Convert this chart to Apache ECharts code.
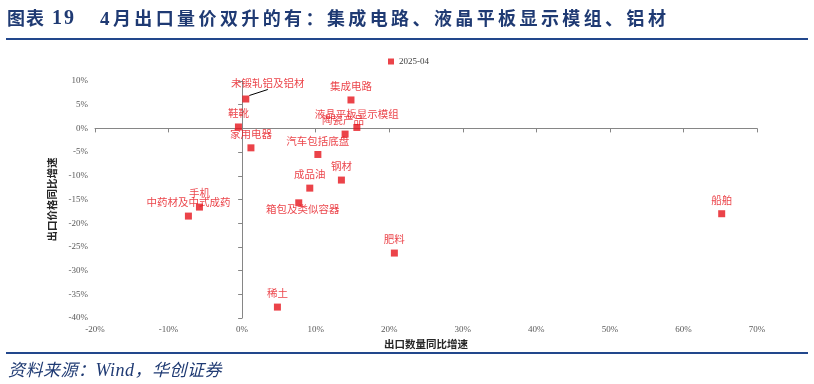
<!DOCTYPE html>
<html>
<head>
<meta charset="utf-8">
<script src="https://cdn.jsdelivr.net/npm/echarts@6/dist/echarts.min.js"></script>
<style>
  html, body { margin: 0; padding: 0; background: #fff; }
  #wrap { position: relative; width: 814px; height: 384px; overflow: hidden; }
  #chart { position: absolute; left: 0; top: 0; width: 814px; height: 384px; }
  .t { position: absolute; color: #1F3A73; font-family: "Noto Sans CJK SC", sans-serif; font-weight: bold; font-size: 18px; line-height: 20px; top: 7px; white-space: nowrap; }
  .num { font-family: "Liberation Serif", serif; font-size: 20px; }
  .rule { position: absolute; left: 6px; width: 802px; height: 2px; background: #22478C; }
  #src { position: absolute; left: 8px; top: 359px; color: #1F3A73; font-family: "Noto Sans CJK SC", sans-serif; font-style: italic; font-size: 17px; line-height: 20px; white-space: nowrap; letter-spacing: 0.5px; }
  #src .w { font-family: "Liberation Serif", serif; font-size: 18px; }
</style>
</head>
<body>
<div id="wrap">
  <div id="chart"></div>
  <div class="t" style="left:7px; letter-spacing:1px;">图表</div>
  <div class="t num" style="left:52px; letter-spacing:2px;">19</div>
  <div class="t" style="left:100px; letter-spacing:3.4px;"><span class="num" style="font-size:19px;">4</span>月出口量价双升的有：集成电路、液晶平板显示模组、铝材</div>
  <div class="rule" style="top:38px;"></div>
  <div class="rule" style="top:352px;"></div>
  <div id="src">资料来源：<span class="w">Wind</span>，华创证券</div>
</div>
<script>
const names = ['未锻轧铝及铝材','集成电路','鞋靴','液晶平板显示模组','陶瓷产品','家用电器','汽车包括底盘','钢材','成品油','手机','中药材及中式成药','箱包及类似容器','肥料','稀土','船舶'];
const qtyGrowth = [0.5, 14.8, -0.5, 15.6, 14.0, 1.2, 10.3, 13.5, 9.2, -5.8, -7.3, 7.7, 20.7, 4.8, 65.2];
const priceGrowth = [6.2, 6.0, 0.3, 0.2, -1.2, -4.1, -5.5, -10.9, -12.6, -16.6, -18.5, -15.7, -26.3, -37.7, -18.0];
const seriesName = '2025-04';
const xTicks = {min: -20, max: 70, interval: 10};
const yTicks = {min: -40, max: 10, interval: 5};

const red = '#E6141C';
const axisColor = '#868686';
const labelFont = {fontFamily: 'Liberation Serif', fontSize: 9, color: '#595959'};

// label nudges (pixels) for crowded labels
const nudges = {0: {dx: 22, dy: -1}, 4: {dx: -2, dy: 0}, 11: {dx: 4, dy: 6}};

const data = names.map((n, i) => {
  const item = {name: n, value: [qtyGrowth[i], priceGrowth[i]]};
  if (i === 0) {
    item.labelLine = {show: true, lineStyle: {color: '#000', width: 1}};
    item.label = {padding: [0, 26, 1, 26], backgroundColor: 'rgba(255,255,255,0)'};
  }
  if (i === 11) item.label = {position: 'inside'};
  return item;
});

const chart = echarts.init(document.getElementById('chart'), null, {renderer: 'canvas'});
chart.setOption({
  animation: false,
  grid: {left: 95, right: 57, top: 81, bottom: 66, containLabel: false},
  legend: {
    data: [seriesName], left: 388, top: 57, padding: 0, icon: 'rect', itemWidth: 6, itemHeight: 6,
    textStyle: {fontFamily: 'Liberation Serif', fontSize: 9, color: '#404040'}
  },
  xAxis: [
    {type: 'value', min: xTicks.min, max: xTicks.max, interval: xTicks.interval, position: 'bottom',
     axisLine: {show: false, onZero: false}, axisTick: {show: false}, splitLine: {show: false},
     axisLabel: Object.assign({formatter: '{value}%', margin: 7}, labelFont),
     name: '出口数量同比增速', nameLocation: 'middle', nameGap: 14,
     nameTextStyle: {fontFamily: 'Noto Sans CJK SC', fontSize: 10.5, fontWeight: 'bold', color: '#262626'}},
    {type: 'value', min: xTicks.min, max: xTicks.max, interval: xTicks.interval, position: 'bottom',
     axisLine: {show: true, onZero: true, lineStyle: {color: axisColor, width: 1}},
     axisTick: {show: true, length: 4, lineStyle: {color: axisColor}},
     axisLabel: {show: false}, splitLine: {show: false}}
  ],
  yAxis: [
    {type: 'value', min: yTicks.min, max: yTicks.max, interval: yTicks.interval, position: 'left',
     axisLine: {show: false, onZero: false}, axisTick: {show: false}, splitLine: {show: false},
     axisLabel: Object.assign({formatter: '{value}%', margin: 7}, labelFont),
     name: '出口价格同比增速', nameLocation: 'middle', nameGap: 36, nameRotate: 90,
     nameTextStyle: {fontFamily: 'Noto Sans CJK SC', fontSize: 10.5, fontWeight: 'bold', color: '#262626'}},
    {type: 'value', min: yTicks.min, max: yTicks.max, interval: yTicks.interval, position: 'left',
     axisLine: {show: true, onZero: true, lineStyle: {color: axisColor, width: 1}},
     axisTick: {show: true, length: 4, lineStyle: {color: axisColor}},
     axisLabel: {show: false}, splitLine: {show: false}}
  ],
  series: [{
    name: seriesName, type: 'scatter', xAxisIndex: 0, yAxisIndex: 0,
    symbol: 'rect', symbolSize: 7,
    itemStyle: {color: red},
    label: {show: true, position: 'top', distance: 5, formatter: '{b}',
            fontFamily: 'Noto Sans CJK SC', fontSize: 10.5, color: red},
    labelLayout: function (p) { return nudges[p.dataIndex] || {}; },
    data: data
  }]
});
</script>
</body>
</html>
